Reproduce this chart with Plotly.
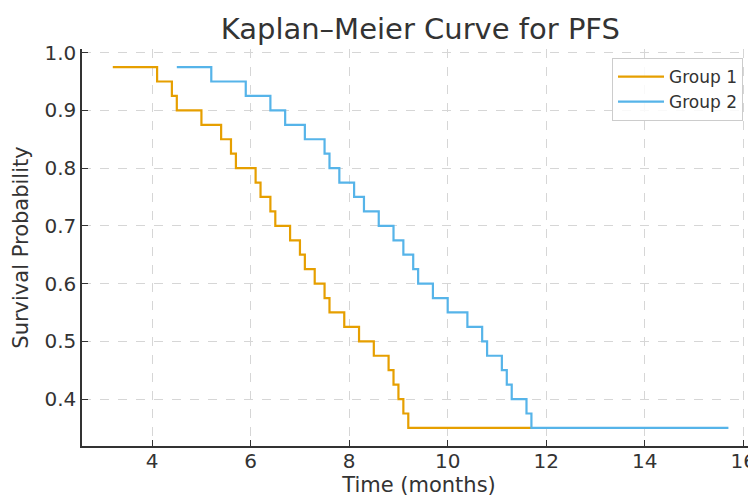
import plotly.graph_objects as go

# Group 1 (step times and survival after each time point)
g1_time = [3.2, 4.1, 4.4, 4.5, 5.0, 5.4, 5.6, 5.7, 6.1, 6.2, 6.4, 6.5, 6.8, 7.0,
           7.1, 7.3, 7.5, 7.6, 7.9, 8.2, 8.5, 8.8, 8.9, 9.0, 9.1, 9.2, 11.7]
g1_surv = [0.975, 0.95, 0.925, 0.9, 0.875, 0.85, 0.825, 0.8, 0.775, 0.75, 0.725, 0.7,
           0.675, 0.65, 0.625, 0.6, 0.575, 0.55, 0.525, 0.5, 0.475, 0.45, 0.425, 0.4,
           0.375, 0.35, 0.35]

# Group 2
g2_time = [4.5, 5.2, 5.9, 6.4, 6.7, 7.1, 7.5, 7.6, 7.8, 8.1, 8.3, 8.6, 8.9, 9.1,
           9.3, 9.4, 9.7, 10.0, 10.4, 10.7, 10.8, 11.1, 11.2, 11.3, 11.6, 11.7, 15.7]
g2_surv = [0.975, 0.95, 0.925, 0.9, 0.875, 0.85, 0.825, 0.8, 0.775, 0.75, 0.725, 0.7,
           0.675, 0.65, 0.625, 0.6, 0.575, 0.55, 0.525, 0.5, 0.475, 0.45, 0.425, 0.4,
           0.375, 0.35, 0.35]

x_ticks = [4, 6, 8, 10, 12, 14, 16]
y_ticks = [0.4, 0.5, 0.6, 0.7, 0.8, 0.9, 1.0]

FONT = "DejaVu Sans"
TXT = "#333333"

# the page body adds an 8px offset; the figure is sized to fill the rest of the window
W, H, OFF = 748, 490, 8
L, T = 82 - OFF, 49 - OFF
B = H - (446 - OFF)

fig = go.Figure()
fig.add_trace(go.Scatter(x=g1_time, y=g1_surv, mode="lines", line_shape="hv",
                         name="Group 1", line=dict(color="#E69F00", width=2.2)))
fig.add_trace(go.Scatter(x=g2_time, y=g2_surv, mode="lines", line_shape="hv",
                         name="Group 2", line=dict(color="#56B4E9", width=2.2)))

fig.update_layout(
    width=W, height=H,
    margin=dict(l=L, r=0, t=T, b=B, autoexpand=False),
    paper_bgcolor="white", plot_bgcolor="white",
    font=dict(family=FONT, color=TXT),
    title=dict(text="Kaplan–Meier Curve for PFS", font=dict(size=29, family=FONT, color=TXT),
               xref="paper", x=0.502, xanchor="center",
               yref="container", y=1 - (29 - OFF) / H, yanchor="middle"),
    showlegend=True,
    legend=dict(x=(612 - 82) / 674, xanchor="left", y=(446 - 58) / 397, yanchor="top",
                bgcolor="rgba(255,255,255,0.85)", bordercolor="#cccccc", borderwidth=1,
                font=dict(size=17, family=FONT, color=TXT), tracegroupgap=0,
                itemwidth=46),
)

fig.update_xaxes(
    range=[2.575, 16.26], tickvals=x_ticks, ticktext=[str(v) for v in x_ticks],
    ticks="inside", ticklen=6, tickwidth=1.3, tickcolor=TXT,
    showline=True, linecolor=TXT, linewidth=1.5, mirror=False, automargin=False,
    showgrid=True, gridcolor="#d6d6d6", griddash="dash", gridwidth=1,
    zeroline=False, tickfont=dict(size=20, family=FONT, color=TXT), ticklabelstandoff=-4,
    title=dict(text="Time (months)", font=dict(size=21, family=FONT, color=TXT), standoff=2),
)
fig.update_yaxes(
    range=[0.31875, 1.00625], tickvals=y_ticks, ticktext=[f"{v:.1f}" for v in y_ticks],
    ticks="inside", ticklen=6, tickwidth=1.3, tickcolor=TXT,
    showline=True, linecolor=TXT, linewidth=1.5, mirror=False, automargin=False,
    showgrid=True, gridcolor="#d6d6d6", griddash="dash", gridwidth=1,
    zeroline=False, tickfont=dict(size=20, family=FONT, color=TXT),
    title=dict(text="Survival Probability", font=dict(size=21, family=FONT, color=TXT), standoff=10),
)

fig.write_html("out.html")
